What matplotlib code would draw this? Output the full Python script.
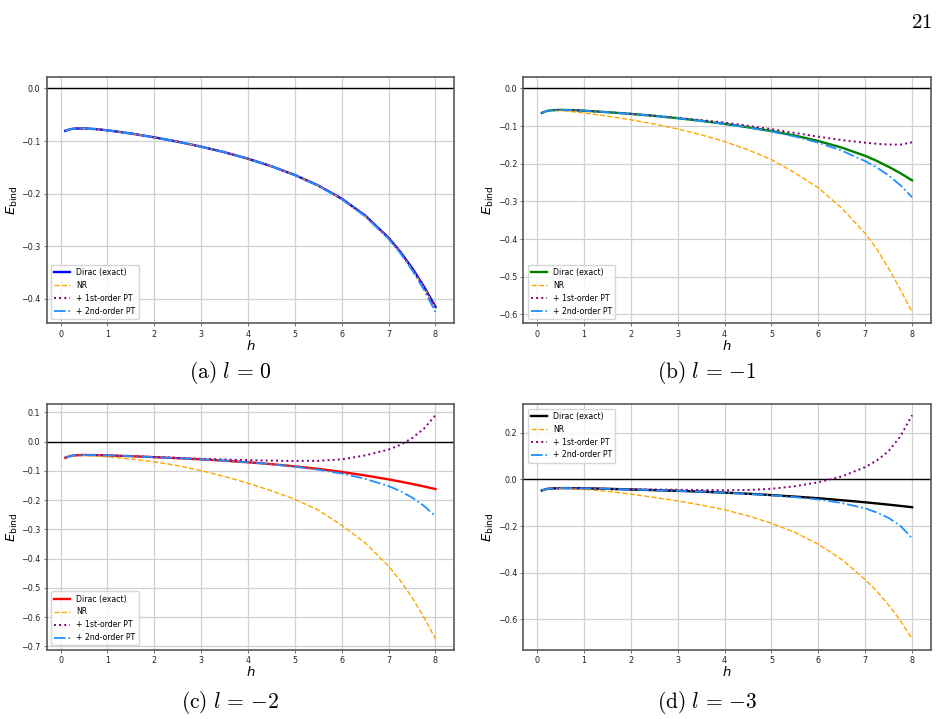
import numpy as np
import matplotlib
matplotlib.use("Agg")
import matplotlib.pyplot as plt
from matplotlib.ticker import MultipleLocator

# ---- data ----

h = [0.1, 0.2, 0.3, 0.5, 0.75, 1, 1.5, 2, 2.5, 3, 3.5, 4, 4.5, 5,
     5.5, 6, 6.5, 7, 7.25, 7.5, 7.75, 8]

# (a) l = 0
dirac_l0 = [-0.0805, -0.0775, -0.0762, -0.0758, -0.0772, -0.0795, -0.0855, -0.0928, -0.1012, -0.1105, -0.1212,
            -0.1335, -0.1478, -0.1645, -0.1845, -0.2095, -0.2415, -0.2840, -0.3105, -0.3410, -0.3760, -0.4150]
nr_l0 = [-0.0805, -0.0775, -0.0762, -0.0758, -0.0772, -0.0795, -0.0855, -0.0928, -0.1012, -0.1105, -0.1212,
         -0.1335, -0.1478, -0.1645, -0.1848, -0.2100, -0.2422, -0.2850, -0.3120, -0.3430, -0.3780, -0.4180]
pt1_l0 = [-0.0805, -0.0775, -0.0762, -0.0758, -0.0772, -0.0795, -0.0855, -0.0928, -0.1012, -0.1105, -0.1212,
          -0.1335, -0.1478, -0.1645, -0.1845, -0.2095, -0.2418, -0.2845, -0.3112, -0.3420, -0.3770, -0.4160]
pt2_l0 = [-0.0805, -0.0775, -0.0762, -0.0758, -0.0772, -0.0795, -0.0855, -0.0928, -0.1012, -0.1105, -0.1212,
          -0.1335, -0.1478, -0.1647, -0.1850, -0.2105, -0.2430, -0.2860, -0.3130, -0.3450, -0.3820, -0.4250]

# (b) l = -1
dirac_l1 = [-0.0650, -0.0600, -0.0578, -0.0568, -0.0575, -0.0590, -0.0630, -0.0675, -0.0728, -0.0790, -0.0860,
            -0.0940, -0.1030, -0.1130, -0.1250, -0.1395, -0.1570, -0.1790, -0.1925, -0.2080, -0.2250, -0.2440]
nr_l1 = [-0.0650, -0.0600, -0.0580, -0.0585, -0.0615, -0.0650, -0.0735, -0.0830, -0.0945, -0.1075, -0.1230,
         -0.1410, -0.1630, -0.1890, -0.2240, -0.2640, -0.3180, -0.3850, -0.4270, -0.4780, -0.5340, -0.5940]
pt1_l1 = [-0.0650, -0.0600, -0.0578, -0.0568, -0.0575, -0.0590, -0.0628, -0.0672, -0.0722, -0.0780, -0.0840,
          -0.0905, -0.0990, -0.1080, -0.1180, -0.1280, -0.1370, -0.1440, -0.1470, -0.1490, -0.1490, -0.1430]
pt2_l1 = [-0.0650, -0.0600, -0.0578, -0.0568, -0.0575, -0.0590, -0.0630, -0.0675, -0.0728, -0.0790, -0.0862,
          -0.0943, -0.1035, -0.1145, -0.1275, -0.1440, -0.1650, -0.1930, -0.2100, -0.2310, -0.2570, -0.2890]

# (c) l = -2
dirac_l2 = [-0.0550, -0.0495, -0.0468, -0.0455, -0.0460, -0.0470, -0.0495, -0.0530, -0.0565, -0.0605, -0.0652,
            -0.0705, -0.0768, -0.0845, -0.0930, -0.1035, -0.1155, -0.1290, -0.1365, -0.1445, -0.1530, -0.1620]
nr_l2 = [-0.0550, -0.0495, -0.0470, -0.0470, -0.0490, -0.0520, -0.0590, -0.0690, -0.0820, -0.0990, -0.1190,
         -0.1420, -0.1680, -0.1970, -0.2340, -0.2860, -0.3460, -0.4260, -0.4750, -0.5330, -0.5990, -0.6740]
pt1_l2 = [-0.0550, -0.0495, -0.0468, -0.0455, -0.0460, -0.0470, -0.0495, -0.0525, -0.0555, -0.0585, -0.0610,
          -0.0630, -0.0650, -0.0660, -0.0655, -0.0605, -0.0470, -0.0270, -0.0110, 0.0120, 0.0440, 0.0905]
pt2_l2 = [-0.0550, -0.0495, -0.0468, -0.0455, -0.0460, -0.0470, -0.0495, -0.0530, -0.0565, -0.0605, -0.0652,
          -0.0706, -0.0772, -0.0855, -0.0960, -0.1090, -0.1270, -0.1520, -0.1690, -0.1910, -0.2190, -0.2550]

# (d) l = -3
dirac_l3 = [-0.0470, -0.0410, -0.0385, -0.0370, -0.0372, -0.0380, -0.0402, -0.0430, -0.0458, -0.0488, -0.0522,
            -0.0565, -0.0612, -0.0670, -0.0735, -0.0805, -0.0890, -0.0980, -0.1030, -0.1080, -0.1135, -0.1190]
nr_l3 = [-0.0470, -0.0410, -0.0385, -0.0375, -0.0390, -0.0420, -0.0510, -0.0630, -0.0770, -0.0920, -0.1100,
         -0.1300, -0.1560, -0.1880, -0.2270, -0.2780, -0.3430, -0.4300, -0.4800, -0.5390, -0.6060, -0.6840]
pt1_l3 = [-0.0470, -0.0410, -0.0385, -0.0370, -0.0372, -0.0380, -0.0398, -0.0415, -0.0428, -0.0440, -0.0452,
          -0.0460, -0.0450, -0.0400, -0.0290, -0.0120, 0.0130, 0.0530, 0.0820, 0.1220, 0.1850, 0.2760]
pt2_l3 = [-0.0470, -0.0410, -0.0385, -0.0370, -0.0372, -0.0380, -0.0402, -0.0430, -0.0458, -0.0488, -0.0522,
          -0.0566, -0.0615, -0.0680, -0.0760, -0.0860, -0.1010, -0.1240, -0.1420, -0.1650, -0.1990, -0.2520]

panels = [
    (dirac_l0, nr_l0, pt1_l0, pt2_l0, 'blue', r'$\mathrm{(a)}\ l \,=\, 0$', 'lower left', 0.1),
    (dirac_l1, nr_l1, pt1_l1, pt2_l1, 'green', r'$\mathrm{(b)}\ l \,=\, {-1}$', 'lower left', 0.1),
    (dirac_l2, nr_l2, pt1_l2, pt2_l2, 'red', r'$\mathrm{(c)}\ l \,=\, {-2}$', 'lower left', 0.1),
    (dirac_l3, nr_l3, pt1_l3, pt2_l3, 'black', r'$\mathrm{(d)}\ l \,=\, {-3}$', 'upper left', 0.2),
]

# ---- layout (figure fractions) ----
W, H = 942, 719
ax_w, ax_h = 407.3 / W, 246.0 / H
lefts = [46.7 / W, 523.3 / W]
bottoms = [(H - 323.3) / H, (H - 650.0) / H]
cap_x = [230 / W, 707 / W]
cap_y = [1 - 373 / H, 1 - 703 / H]

fig = plt.figure(figsize=(W / 100, H / 100), dpi=100)

for k, (dirac, nr, pt1, pt2, col, caption, legloc, ystep) in enumerate(panels):
    r, c = divmod(k, 2)
    ax = fig.add_axes([lefts[c], bottoms[r], ax_w, ax_h])
    ax.axhline(0, color='black', lw=1.0, zorder=1)
    ax.plot(h, dirac, color=col, lw=1.7, label='Dirac (exact)', zorder=3)
    ax.plot(h, nr, color='orange', ls='--', lw=1.0, label='NR', zorder=4)
    ax.plot(h, pt1, color='purple', ls=':', lw=1.4, label='+ 1st-order PT', zorder=5)
    ax.plot(h, pt2, color='dodgerblue', ls='-.', lw=1.3, label='+ 2nd-order PT', zorder=6)

    ax.xaxis.set_major_locator(MultipleLocator(1))
    ax.yaxis.set_major_locator(MultipleLocator(ystep))
    ax.grid(True, color='#d0d0d0', lw=0.9)
    ax.set_axisbelow(True)
    for s in ax.spines.values():
        s.set_linewidth(1.2)
        s.set_color('0.35')
    ax.tick_params(labelsize=5.8, length=2.5, width=0.6, pad=2, labelcolor='#222222', color='0.35')
    ax.set_xlabel(r'$h$', fontsize=9.5, labelpad=0)
    ax.set_ylabel(r'$E_{\mathrm{bind}}$', fontsize=9.5, labelpad=1)
    ax.legend(loc=legloc, fontsize=5.6, handlelength=2.0, borderaxespad=0.6)

    fig.text(cap_x[c], cap_y[r], caption, ha='center', va='center', fontsize=15.5,
             math_fontfamily='cm')

fig.text(932 / W, 1 - 22 / H, r'$\mathrm{21}$', ha='right', va='center', fontsize=15,
         math_fontfamily='cm')

fig.savefig('out.png', dpi=100)
